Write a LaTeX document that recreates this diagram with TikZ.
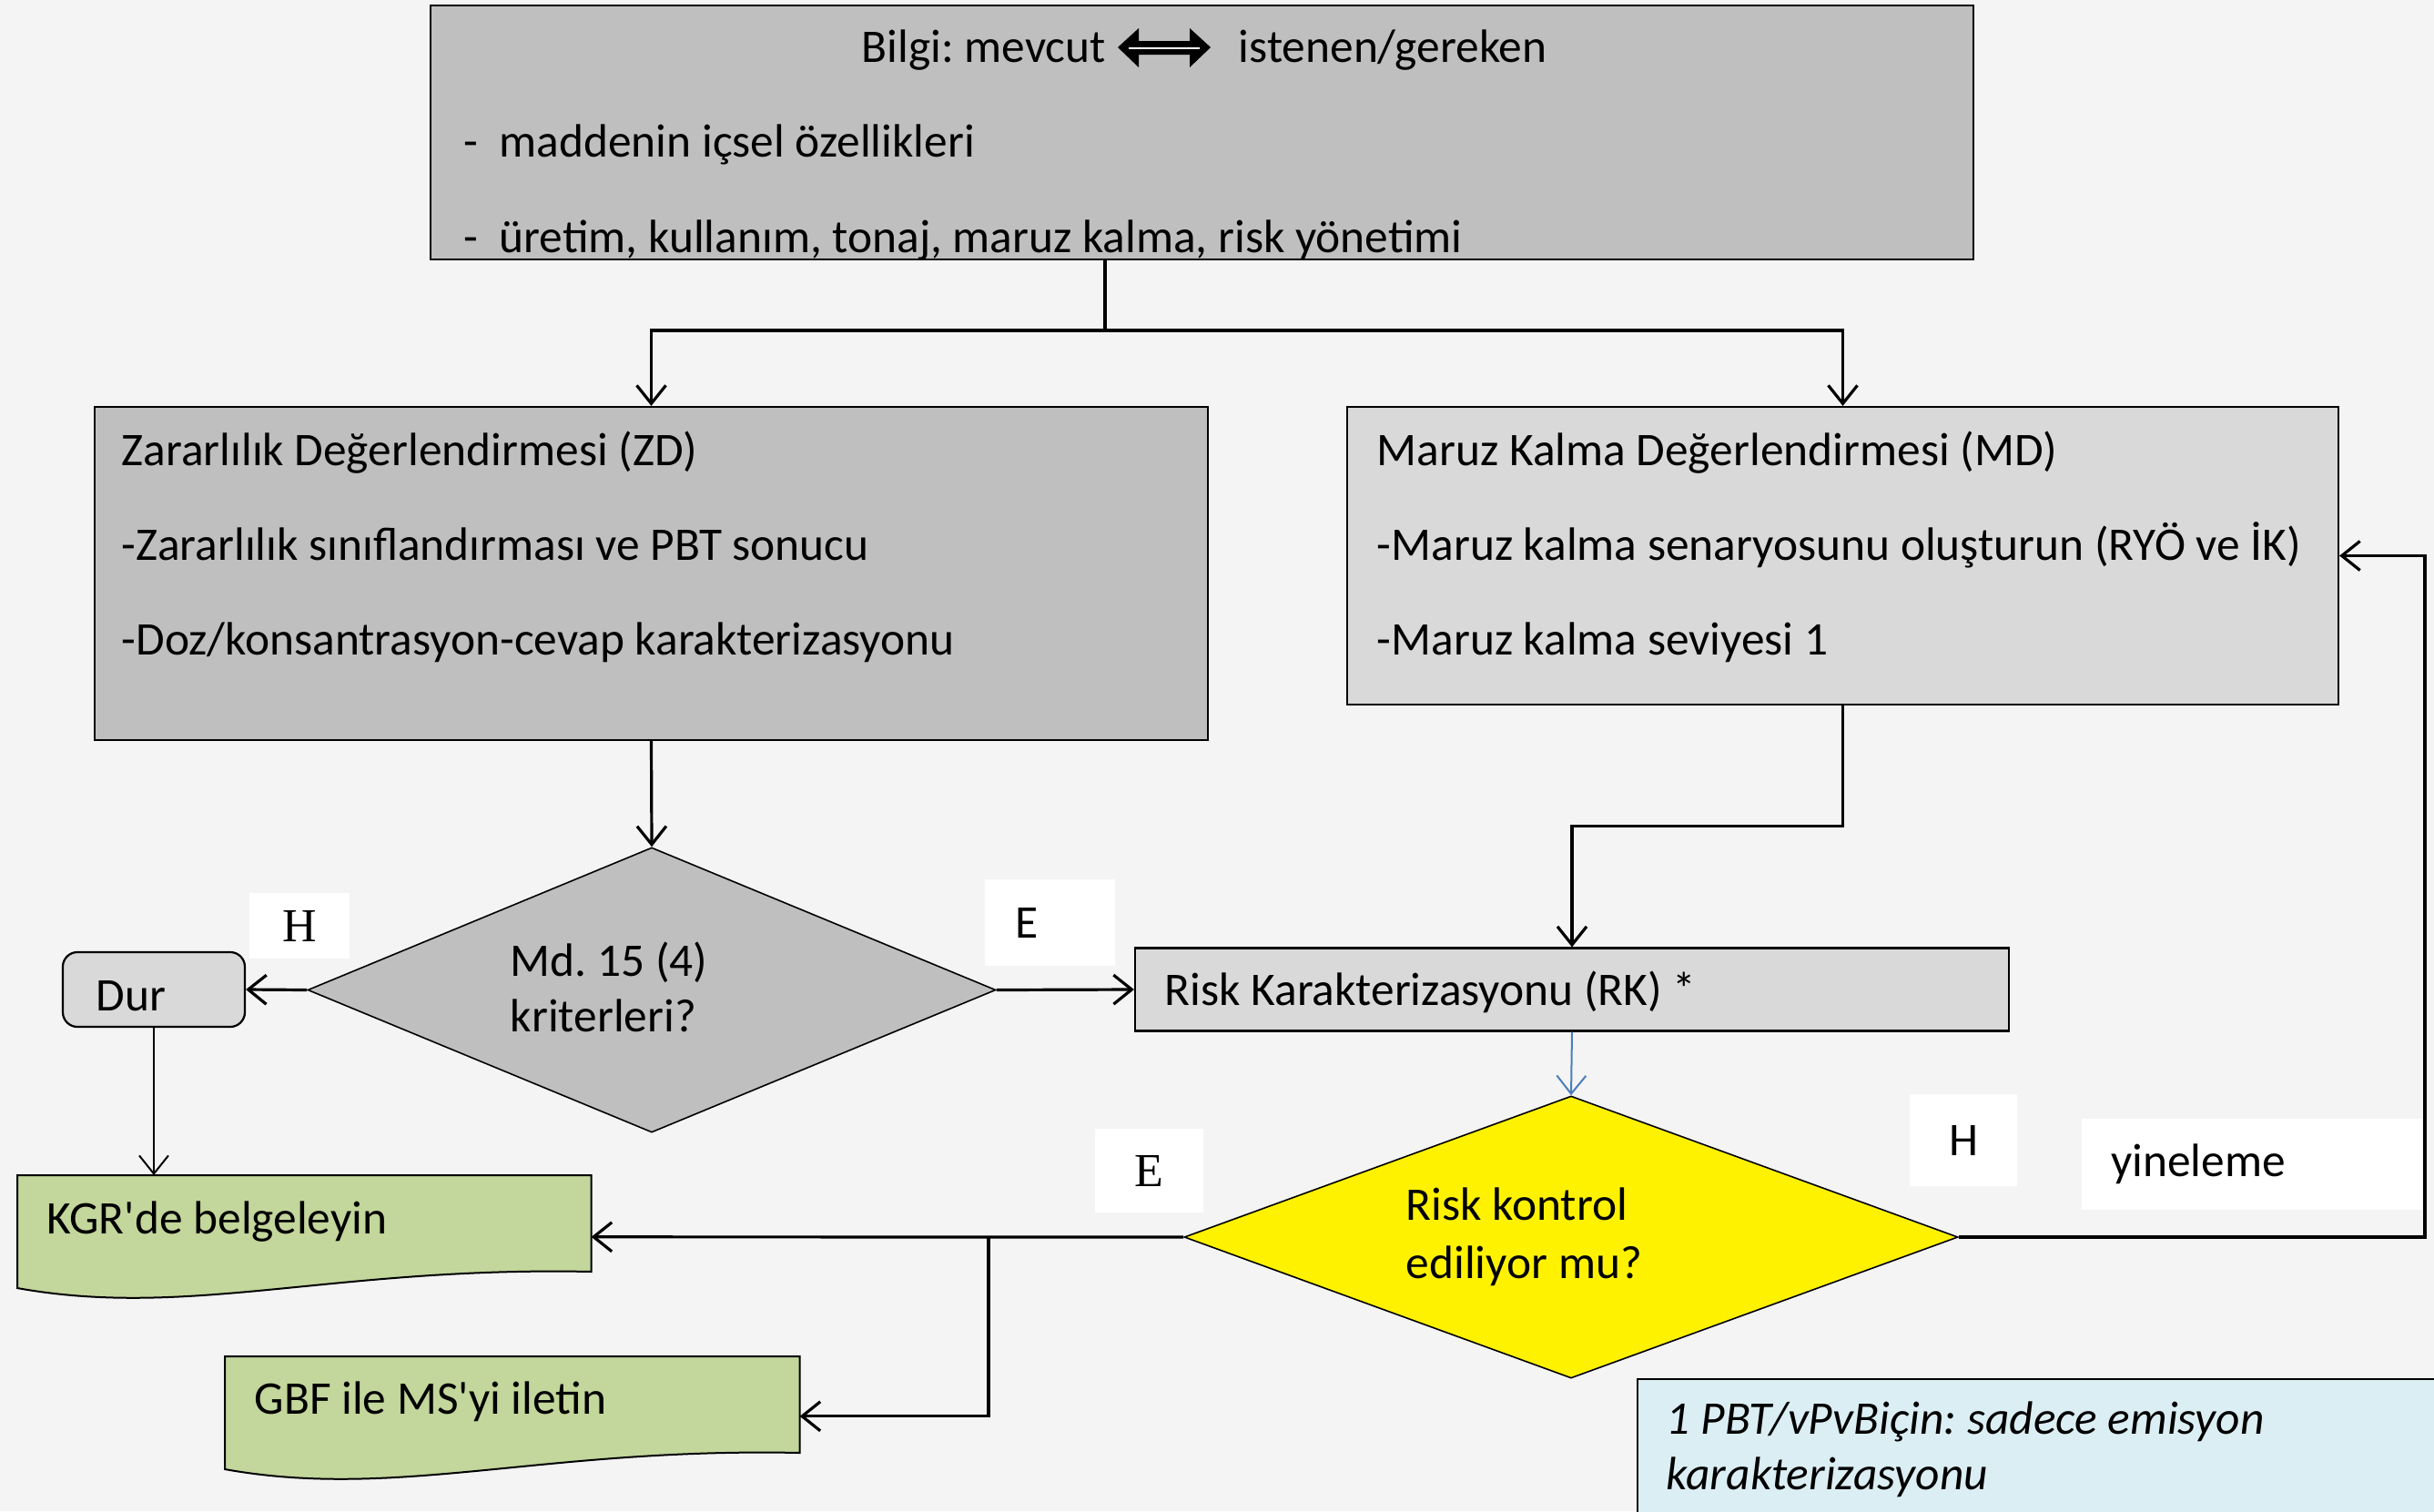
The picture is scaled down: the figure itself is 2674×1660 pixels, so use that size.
\documentclass[tikz,border=0pt]{standalone}
\usepackage{fontspec}
\setmainfont{Carlito}
\newfontfamily\timesfont{Liberation Serif}
\usetikzlibrary{positioning,shapes.geometric,arrows.meta,calc}
\definecolor{bgcol}{HTML}{F4F4F4}
\definecolor{grayA}{HTML}{BFBFBF}
\definecolor{grayB}{HTML}{D9D9D9}
\definecolor{docgreen}{HTML}{C3D69B}
\definecolor{noteblue}{HTML}{DBEEF4}
\definecolor{arrblue}{HTML}{4A7EBB}
\frenchspacing

\begin{document}
\begin{tikzpicture}[x=0.25pt,y=-0.25pt,
    box/.style={draw=black, line width=0.55pt, inner sep=0pt},
    decision/.style={diamond, draw=black, line width=0.4pt, inner sep=0pt},
    txt/.style={inner sep=0pt, anchor=base west, font=\fontsize{12.85pt}{15pt}\selectfont},
    lbl/.style={fill=white, inner sep=0pt, font=\fontsize{12.85pt}{15pt}\selectfont},
    arr/.style={line width=0.8pt, -{Straight Barb[length=5pt,width=8pt]}},
    docshape/.style={draw=black, line width=0.5pt, fill=docgreen}]
    % background
    \fill[bgcol] (0,0) rectangle (2674,1660);

    % boxes
    \node[box, fill=grayA, minimum width=423.75pt, minimum height=69.75pt] (bilgi) at (1320.5,145.5) {};
    \node[box, fill=grayA, minimum width=305.75pt, minimum height=91.5pt] (zd) at (715.5,630) {};
    \node[box, fill=grayB, minimum width=272.25pt, minimum height=81.75pt] (md) at (2024.5,610.5) {};
    \node[decision, fill=grayA, minimum width=189pt, minimum height=78.25pt] (q1) at (716,1087.5) {};
    \node[box, fill=grayB, rounded corners=4pt, minimum width=50pt, minimum height=20.5pt] (dur) at (169,1087) {};
    \node[box, fill=grayB, minimum width=240pt, minimum height=22.75pt] (rk) at (1727,1087) {};
    \node[decision, fill=yellow, minimum width=212.5pt, minimum height=77.5pt] (q2) at (1726,1359) {};
    \node[inner sep=0pt, anchor=north west, minimum width=157.25pt, minimum height=33.5pt] (kgr) at (19,1291) {};
    \node[inner sep=0pt, anchor=north west, minimum width=157.5pt, minimum height=32.5pt] (gbf) at (247,1490) {};
    \node[draw=black, line width=0.5pt, fill=noteblue, inner sep=0pt, anchor=north west,
          minimum width=226pt, minimum height=42pt] (note) at (1798,1514) {};

    % document shapes (wavy bottom)
    \foreach \d in {kgr,gbf}
        \draw[docshape] (\d.north west) -- (\d.north east) -- ($(\d.north east)+(0,106)$)
            .. controls ($(\d.north east)+(-283,100)$) and ($(\d.north west)+(189,158)$) .. ($(\d.north west)+(0,124)$) -- cycle;

    % texts
    \node[txt] (bilgi0) at (946,68) {Bilgi: mevcut};
    \node[txt] (bilgi0b) at (1360,68) {istenen/gereken};
    % thick double arrow between the two words
    \fill[black] (1228,52) -- (1251,31) -- (1251,45) -- (1307,45) -- (1307,31) -- (1330,52)
        -- (1307,74) -- (1307,60) -- (1251,60) -- (1251,74) -- cycle;
    \draw[white, line width=0.5pt] (1240,52.5) -- (1318,52.5);
    \node[txt] (bilgi1) at (509,172) {-\hspace{0.45em}maddenin içsel özellikleri};
    \node[txt] (bilgi2) at (509,277) {-\hspace{0.45em}üretim, kullanım, tonaj, maruz kalma, risk yönetimi};
    \node[txt] (zd1) at (133,511) {Zararlılık Değerlendirmesi (ZD)};
    \node[txt] (zd2) at (133,615) {-Zararlılık sınıflandırması ve PBT sonucu};
    \node[txt] (zd3) at (133,719) {-Doz/konsantrasyon-cevap karakterizasyonu};
    \node[txt] (md1) at (1512,511) {Maruz Kalma Değerlendirmesi (MD)};
    \node[txt] (md2) at (1512,615) {-Maruz kalma senaryosunu oluşturun (RYÖ ve İK)};
    \node[txt] (md3) at (1512,719) {-Maruz kalma seviyesi 1};
    \node[txt] (q1a) at (560,1072) {Md. 15 (4)};
    \node[txt] (q1b) at (560,1133) {kriterleri?};
    \node[txt] (durt) at (105,1110) {Dur};
    \node[txt] (rkt) at (1279,1104) {Risk Karakterizasyonu (RK) *};
    \node[txt] (q2a) at (1544,1340) {Risk kontrol};
    \node[txt] (q2b) at (1544,1404) {ediliyor mu?};
    \node[txt] (kgrt) at (51,1355) {KGR\textquotesingle de belgeleyin};
    \node[txt] (gbft) at (279,1553) {GBF ile MS\textquotesingle yi iletin};
    \node[txt, font=\fontsize{12.85pt}{15pt}\selectfont\itshape] (note1) at (1830,1575) {1 PBT/vPvBiçin: sadece emisyon};
    \node[txt, font=\fontsize{12.85pt}{15pt}\selectfont\itshape] (note2) at (1830,1636) {karakterizasyonu};

    % answer labels
    \node[lbl, font=\fontsize{13pt}{15pt}\timesfont, minimum width=27.5pt, minimum height=18pt] (h1) at (329,1017) {H};
    \node[lbl, minimum width=35.75pt, minimum height=23.75pt, text width=19.25pt, inner xsep=8.25pt, align=left] (e1) at (1153.5,1013.5) {E};
    \node[lbl, font=\fontsize{13pt}{15pt}\timesfont, minimum width=29.75pt, minimum height=23pt] (e2) at (1262.5,1286) {E};
    \node[lbl, minimum width=29.5pt, minimum height=25.25pt] (h2) at (2157,1252.5) {H};
    \node[lbl, minimum width=93.5pt, minimum height=25pt, text width=77.5pt, inner xsep=8pt, align=left] (yin) at (2474,1279) {yineleme};

    % connectors
    \coordinate (split) at (1214,363);
    \draw[line width=0.8pt] (bilgi.south -| split) -- (split);
    \draw[arr] (split) -| (zd.north);
    \draw[arr] (split) -| (md.north);
    \draw[arr] (zd.south) -- (q1.north);
    \draw[arr] (q1.west) -- (dur.east);
    \draw[arr] (q1.east) -- (rk.west);
    \draw[arr] (md.south) -- ++(0,132) -| (rk.north);
    \draw[arr, draw=arrblue, line width=0.5pt] (rk.south) -- (q2.north);
    \coordinate (loopR) at (2664,1359);
    \draw[arr] (q2.east) -- (loopR) |- (md.east);
    \draw[arr] (q2.west) -- (kgr.east);
    \coordinate (ebranch) at (1086,1359);
    \draw[arr] (ebranch) |- (gbf.east);
    \draw[arr, line width=0.5pt] (dur.south) -- (dur.south |- kgr.north);

    \pgfresetboundingbox
    \useasboundingbox (0,0) rectangle (2674,1660);
\end{tikzpicture}
\end{document}
